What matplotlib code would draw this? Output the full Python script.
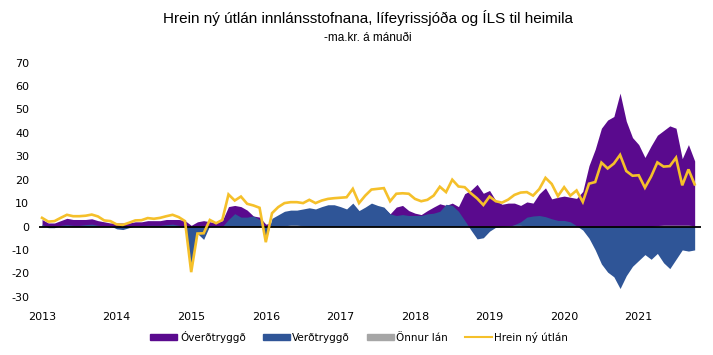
import matplotlib
matplotlib.use('Agg')
import matplotlib.pyplot as plt
import numpy as np
import pandas as pd
from matplotlib.patches import Patch
from matplotlib.lines import Line2D

months = pd.date_range('2013-01-01', periods=106, freq='MS')

overdtryggd = [
    3.0, 1.5, 1.5, 2.5, 3.5, 3.0, 3.0, 3.0, 3.3, 2.5, 2.0, 1.5,
    1.5, 1.5, 1.5, 2.0, 2.0, 2.5, 2.5, 2.5, 3.0, 3.0, 3.0, 2.5,
    0.5, 2.0, 2.5, 2.0, 1.5, 2.5, 8.5, 9.0, 8.5, 7.0, 4.5, 4.0,
    1.0, 1.5, 3.0, 3.5, 3.3, 3.3, 2.5, 3.3, 2.5, 2.5, 2.5, 2.8,
    3.5, 4.5, 6.0, 3.0, 5.0, 5.8, 7.0, 8.0, 5.4, 8.3, 9.0, 6.8,
    5.7, 5.1, 6.8, 8.3, 9.7, 9.0, 10.0, 8.5, 14.0, 15.5, 18.0, 14.2,
    15.4, 11.1, 9.5, 10.0, 10.0, 9.0, 10.5, 10.0, 14.0, 16.5, 11.8, 12.5,
    13.0, 12.5, 12.0, 15.0, 26.0, 33.0, 42.0, 45.5, 47.0, 57.0, 45.0, 38.0,
    35.0, 29.5, 34.5, 39.0, 41.0, 43.0, 42.0, 29.0, 35.0, 28.0,
]

verdtryggd = [
    1.0, -0.5, -0.5, 0.5, 0.8, 0.5, 0.5, 0.8, 1.0, 0.5, 0.3, 0.3,
    -1.0, -1.3, -0.5, 0.3, 0.3, 0.5, 0.5, 0.5, 0.8, 1.0, 0.5, 0.0,
    -18.0, -3.0, -5.5, 0.5, 0.0, 0.0, 3.0, 5.5, 4.0, 4.0, 4.5, 3.0,
    -6.0, 3.5, 5.0, 6.5, 7.0, 7.0, 7.5, 8.0, 7.5, 8.5, 9.3, 9.3,
    8.5, 7.5, 10.0, 6.8, 8.3, 10.0, 9.0, 8.3, 5.4, 4.7, 5.1, 4.7,
    4.7, 4.7, 5.4, 5.7, 6.5, 9.5, 9.0, 6.5, 2.6, -1.5, -5.3, -4.8,
    -2.0, -0.3, 0.0, 0.0, 0.8, 2.0, 4.0, 4.5, 4.7, 4.2, 3.3, 2.6,
    2.6, 2.0, 0.3, -1.5, -5.0, -10.0, -16.0, -19.5, -21.5, -26.5, -21.0, -17.0,
    -14.5, -12.0, -14.0, -11.5, -15.5, -18.0, -14.0, -10.0, -10.5, -10.0,
]

onnur_lan = [
    0.1, 0.1, 0.1, 0.1, 0.1, 0.1, 0.1, 0.1, 0.1, 0.1, 0.1, 0.1,
    0.1, 0.1, 0.1, 0.1, 0.1, 0.1, 0.1, 0.1, 0.1, 0.1, 0.1, 0.1,
    0.1, 0.1, 0.1, 0.1, 0.1, 0.1, 0.1, 0.1, 0.1, 0.1, 0.1, 0.1,
    0.1, 0.1, 0.1, 0.3, 0.6, 0.6, 0.3, 0.1, 0.1, 0.1, 0.1, 0.1,
    0.1, 0.1, 0.1, 0.1, 0.1, 0.1, 0.1, 0.1, 0.1, 0.1, 0.1, 0.1,
    0.1, 0.1, 0.1, 0.1, 0.1, 0.1, 0.1, 0.1, 0.1, 0.1, 0.1, 0.1,
    0.1, 0.1, 0.1, 0.3, 0.5, 0.5, 0.1, 0.1, 0.1, 0.1, 0.1, 0.1,
    0.1, 0.1, 0.1, 0.1, 0.1, 0.1, 0.1, 0.1, 0.1, 0.1, 0.1, 0.1,
    0.1, 0.1, 0.1, 0.4, 0.6, 0.6, 0.6, 0.6, 0.6, 0.3,
]

hrein_ny_utlan = [
    3.7, 2.1, 2.3, 3.7, 5.0, 4.4, 4.4, 4.6, 5.1, 4.3, 2.6, 2.3,
    0.9, 0.7, 1.6, 2.6, 2.7, 3.6, 3.3, 3.7, 4.4, 5.0, 4.0, 2.3,
    -19.5, -3.0, -2.9, 2.8, 1.4, 2.8, 13.7, 11.1, 12.8, 9.7, 9.0, 8.0,
    -6.7, 5.7, 8.3, 10.0, 10.4, 10.4, 10.0, 11.4, 10.0, 11.1, 11.8, 12.1,
    12.3, 12.5, 16.1, 10.0, 13.2, 15.8, 16.1, 16.4, 10.8, 14.0, 14.2, 14.0,
    11.8, 10.8, 11.4, 13.2, 17.0, 14.7, 20.0, 17.1, 16.8, 14.2, 12.0, 9.2,
    12.8, 10.8, 10.2, 11.5, 13.5, 14.5, 14.7, 13.2, 16.0, 20.8, 18.2, 13.0,
    16.8, 13.2, 15.4, 10.5, 18.3, 19.0, 27.3, 24.8, 26.9, 30.6, 23.7, 21.7,
    21.9, 16.6, 21.4, 27.4, 25.6, 25.8, 29.4, 17.6, 24.4, 18.0,
]

yticks = [-30, -20, -10, 0, 10, 20, 30, 40, 50, 60, 70]
years = [str(y) for y in range(2013, 2022)]

purple = '#5a0a8e'
blue = '#2f5597'
gray = '#a6a6a6'
gold = '#f5c02a'

x = np.arange(len(months))

fig = plt.figure(figsize=(7.13, 3.55), dpi=100)
ax = fig.add_axes([0.0546, 0.1642, 0.9284, 0.6592])

ax.fill_between(x, 0, overdtryggd, color=purple, lw=0)
ax.fill_between(x, 0, verdtryggd, color=blue, lw=0)
ax.fill_between(x, 0, onnur_lan, color=gray, lw=0)
ax.axhline(0, color='black', lw=1.3)
ax.plot(x, hrein_ny_utlan, color=gold, lw=1.9, solid_joinstyle='miter')

ax.set_xlim(-0.5, 106)
ax.set_ylim(-30, 70)
ax.set_yticks(yticks)
ax.set_yticklabels([str(v) for v in yticks], fontsize=8, family='DejaVu Sans')
ax.set_xticks([i for i, d in enumerate(months) if d.month == 1])
ax.set_xticklabels(years, fontsize=8, family='DejaVu Sans')
ax.tick_params(axis='y', length=0, pad=7)
ax.tick_params(axis='x', length=0, pad=11)
for s in ax.spines.values():
    s.set_visible(False)

fig.text(0.516, 0.949, 'Hrein ný útlán innlánsstofnana, lífeyrissjóða og ÍLS til heimila',
         ha='center', va='center', fontsize=11, family='Liberation Sans')
fig.text(0.516, 0.893, '-ma.kr. á mánuði', ha='center', va='center',
         fontsize=8.5, family='Liberation Sans')

handles = [
    Patch(color=purple, label='Óverðtryggð'),
    Patch(color=blue, label='Verðtryggð'),
    Patch(color=gray, label='Önnur lán'),
    Line2D([], [], color=gold, lw=1.5, label='Hrein ný útlán'),
]
fig.legend(handles=handles, loc='center', bbox_to_anchor=(0.504, 0.051), ncol=4,
           frameon=False, prop={'family': 'DejaVu Sans', 'size': 7.5},
           handlelength=2.6, handleheight=0.55, handletextpad=0.25, columnspacing=1.6)

fig.savefig('out.png', dpi=100)
